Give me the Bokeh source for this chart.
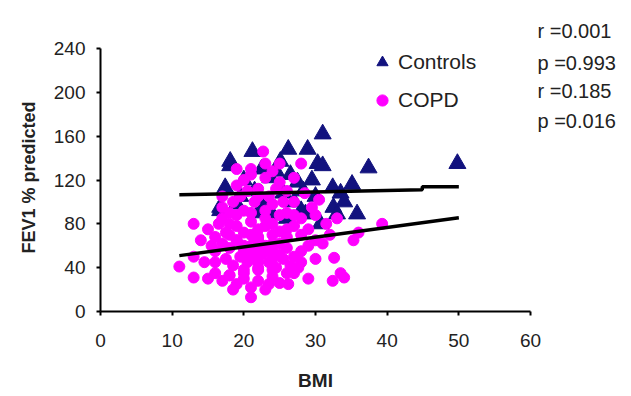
import math
from bokeh.plotting import figure
from bokeh.models import Label, Legend, LegendItem, FixedTicker
from bokeh.embed import file_html
from bokeh.resources import INLINE

# ---- data ----
controls_bmi = [31.0, 21.2, 26.2, 28.9, 18.1, 30.3, 37.4, 49.8, 35.8, 35.1, 32.5, 16.7,
                31.0, 25.1, 32.4, 28.3, 23.7, 18.1, 17.4, 33.0, 30.7, 28.6, 16.7,
                20.0, 22.5, 24.5, 26.5, 27.5, 29.5, 19.5, 21.5, 23.0, 25.5, 27.0,
                30.0, 33.5, 24.0, 22.0, 26.0, 34.0, 19.0, 28.0]
controls_fev = [162, 146, 148, 148, 133, 135, 131, 135, 89, 116, 95, 95,
                133, 137, 113, 110, 122, 137, 113, 89, 80, 89, 92,
                120, 130, 128, 125, 118, 120, 105, 110, 100, 108, 100,
                105, 108, 88, 90, 85, 100, 98, 92]

copd_bmi = [19, 20, 21, 22, 23, 24, 25, 22.7, 28, 26, 27, 20.5, 18.5, 19.5, 21.5, 23.5,
            24.5, 25.5, 27, 28.5, 29.5, 30.5, 31.5, 33, 30, 26, 23, 20, 18, 17, 16.5,
            13, 15, 17.5, 19, 21, 22, 24, 25, 27, 28, 29, 30, 31, 32, 35.3, 39.3, 36,
            14, 15.5, 16, 17, 18, 19, 20, 21, 22, 23, 24, 25, 26, 27, 28, 29, 30, 16,
            17.5, 18.5, 19.5, 20.5, 21.5, 22.5, 23.5, 24.5, 25.5, 26.5, 27.6, 32.6,
            11, 13, 14.5, 13, 15, 16, 17, 18, 19, 20, 21, 21, 22, 23, 24, 25, 26.2,
            27, 22, 20, 18.5, 23.5, 32.4, 34, 33.5, 18, 20, 22, 24, 26, 19, 21, 23,
            25, 27, 20, 22, 24, 26, 28, 17, 19, 22, 24, 21, 23, 25, 18, 16, 20, 22,
            24, 26, 28, 29, 17, 19, 21, 23, 25, 20, 22, 24, 18, 21, 23]
copd_fev = [130, 120, 125, 112, 135, 128, 118, 146, 135, 110, 122, 110, 100, 105, 100,
            105, 112, 100, 100, 108, 95, 102, 80, 85, 88, 90, 92, 92, 90, 85, 80, 80,
            75, 72, 78, 82, 75, 80, 73, 78, 70, 75, 65, 62, 70, 65, 80, 72, 65, 60,
            55, 62, 58, 65, 60, 55, 65, 60, 55, 62, 58, 50, 55, 60, 48, 45, 48, 42,
            50, 45, 48, 52, 45, 40, 48, 42, 40, 49, 41, 50, 45, 31, 30, 35, 28, 33,
            25, 30, 13, 22, 28, 20, 32, 26, 25, 35, 38, 38, 20, 25, 28, 31, 35, 70,
            72, 68, 70, 68, 88, 90, 85, 88, 88, 50, 45, 62, 75, 85, 105, 115, 105,
            98, 130, 122, 135, 80, 68, 35, 58, 48, 35, 45, 30, 95, 65, 70, 55, 52,
            57, 40, 38, 33, 60, 78, 92]

# regression lines (end points)
controls_fit_bmi = [11, 44.9, 44.9, 50]
controls_fit_fev = [106.5, 111, 113.8, 113.8]
copd_fit_bmi = [11, 50]
copd_fit_fev = [51, 85.5]

x_ticks = [0, 10, 20, 30, 40, 50, 60]
y_ticks = [0, 40, 80, 120, 160, 200, 240]
x_title = "BMI"
y_title = "FEV1 % predicted"
stats = ["r =0.001", "p =0.993", "r =0.185", "p =0.016"]

FONT = "Liberation Sans"
TXT = "#222222"

# ---- layout: the frame covers the whole canvas; axes sit at fixed data locations ----
W, H = 623, 395
AX_LEFT, AX_BOTTOM = 100, 311          # pixel position of the origin
PX_X = 430 / 60                        # pixels per BMI unit
PX_Y = 263 / 240                       # pixels per FEV1 unit

p = figure(frame_width=W, frame_height=H,
           min_border_left=0, min_border_right=0, min_border_top=0, min_border_bottom=0,
           x_range=(-AX_LEFT / PX_X, (W - AX_LEFT) / PX_X),
           y_range=(-(H - AX_BOTTOM) / PX_Y, AX_BOTTOM / PX_Y),
           output_backend="svg", toolbar_location=None,
           background_fill_color="white", border_fill_color="white")
p.outline_line_color = None
p.grid.visible = False

for ax in (p.xaxis[0], p.yaxis[0]):
    ax.fixed_location = 0
    ax.axis_line_color = "black"
    ax.axis_line_width = 2
    ax.major_tick_line_color = "black"
    ax.major_tick_line_width = 2
    ax.major_tick_out = 4
    ax.major_tick_in = 0
    ax.minor_tick_line_color = None
    ax.major_label_text_font = FONT
    ax.major_label_text_font_size = "19px"
    ax.major_label_text_color = TXT

p.xaxis.bounds = (x_ticks[0], x_ticks[-1])
p.yaxis.bounds = (y_ticks[0], y_ticks[-1])
p.xaxis.ticker = FixedTicker(ticks=x_ticks)
p.yaxis.ticker = FixedTicker(ticks=y_ticks)
p.xaxis.major_label_standoff = 18
p.yaxis.major_label_standoff = 11

# axis titles
p.add_layout(Label(x=30, y=-(380 - AX_BOTTOM) / PX_Y, text=x_title, text_font=FONT,
                   text_font_size="19px", text_font_style="bold", text_color=TXT,
                   text_align="center", text_baseline="middle"))
p.add_layout(Label(x=-(AX_LEFT - 28) / PX_X, y=(AX_BOTTOM - 177) / PX_Y, text=y_title,
                   angle=math.pi / 2, text_font=FONT, text_font_size="18px",
                   text_font_style="bold", text_color=TXT,
                   text_align="center", text_baseline="middle"))

ctrl = p.scatter(controls_bmi, controls_fev, marker="triangle", size=17,
                 fill_color="#12127e", line_color="#12127e")
copd = p.scatter(copd_bmi, copd_fev, marker="circle", size=11,
                 fill_color="#ff00ff", line_color="#ff00ff")

p.line(controls_fit_bmi, controls_fit_fev, line_color="black", line_width=3.5)
p.line(copd_fit_bmi, copd_fit_fev, line_color="black", line_width=3.5)

legend = Legend(items=[LegendItem(label="Controls", renderers=[ctrl]),
                       LegendItem(label="COPD", renderers=[copd])],
                location=(368, H - 114), orientation="vertical",
                border_line_color=None, background_fill_alpha=0,
                padding=0, margin=0, spacing=10, glyph_width=28, glyph_height=28,
                label_standoff=2, label_text_font=FONT,
                label_text_font_size="21px", label_text_color=TXT)
p.add_layout(legend, "center")

stat_px_y = [30, 62, 90, 120]
for t, py in zip(stats, stat_px_y):
    p.add_layout(Label(x=(537 - AX_LEFT) / PX_X, y=(AX_BOTTOM - py) / PX_Y, text=t,
                       text_font=FONT, text_font_size="20px", text_color=TXT,
                       text_baseline="middle", text_align="left"))

open("out.html", "w").write(file_html(p, INLINE))
